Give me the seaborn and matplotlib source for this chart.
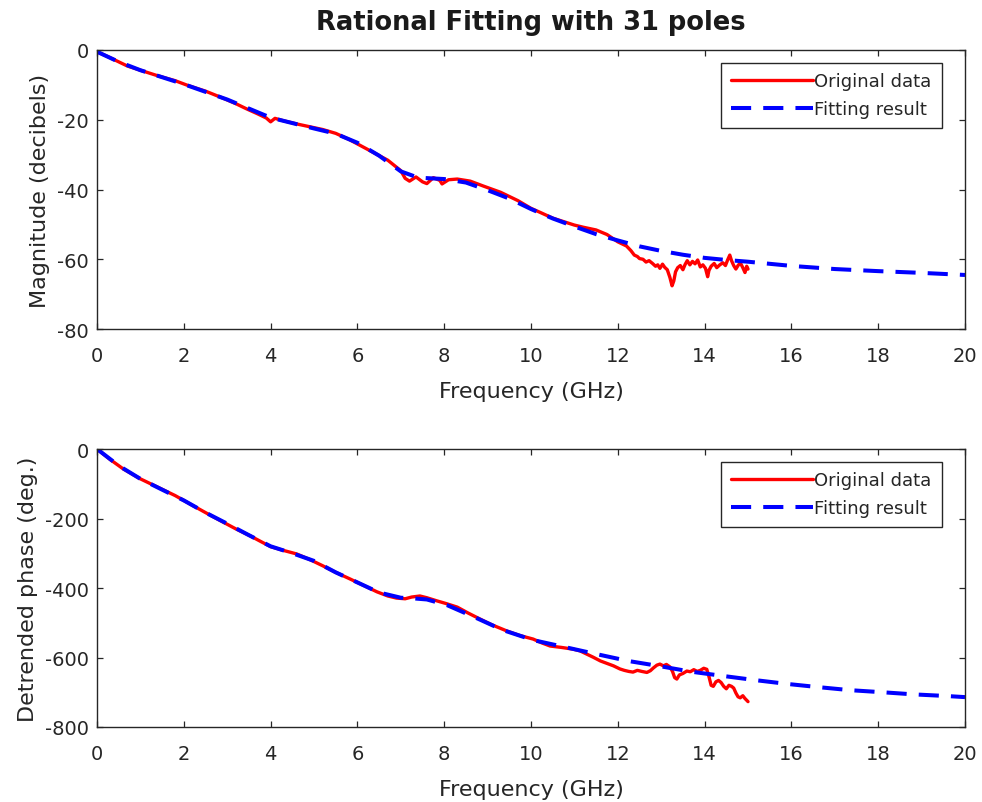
import numpy as np
import pandas as pd
import seaborn as sns
import matplotlib
matplotlib.use("Agg")
import matplotlib.pyplot as plt

# ---------------- data ----------------
mag_freq = [0.0, 0.3, 0.7, 1.0, 1.4, 1.8, 2.1, 2.5, 2.9, 3.2, 3.45, 3.7, 3.9, 4.0, 4.1, 4.3,
            4.6, 4.9, 5.2, 5.5, 5.8, 6.1, 6.4, 6.7, 6.9, 7.0, 7.1, 7.2, 7.35, 7.5, 7.6, 7.75,
            7.9, 7.95, 8.1, 8.3, 8.6, 8.9, 9.3, 9.7, 10.0, 10.2, 10.5, 10.7, 11.0, 11.2, 11.5,
            11.75, 12.0, 12.2, 12.3, 12.38, 12.45, 12.5, 12.58, 12.65, 12.72, 12.8, 12.87,
            12.92, 12.97, 13.03, 13.08, 13.14, 13.2, 13.25, 13.29, 13.33, 13.38, 13.44, 13.5,
            13.55, 13.6, 13.66, 13.72, 13.78, 13.84, 13.9, 13.96, 14.02, 14.07, 14.1, 14.15,
            14.22, 14.28, 14.35, 14.42, 14.48, 14.53, 14.58, 14.62, 14.67, 14.72, 14.78, 14.83,
            14.88, 14.93, 14.97, 15.0]
mag_orig = [-0.5, -2.2, -4.6, -5.8, -7.4, -8.8, -10.2, -11.8, -13.8, -15.4, -16.9, -18.3, -19.5,
            -20.6, -19.6, -20.3, -21.2, -22.0, -22.8, -23.9, -25.6, -27.6, -29.6, -31.6, -33.6,
            -34.6, -36.8, -37.6, -36.4, -37.8, -38.3, -36.6, -37.4, -38.4, -37.2, -37.0, -37.6,
            -39.0, -40.8, -43.2, -45.4, -46.5, -48.2, -49.0, -50.2, -50.8, -51.6, -52.9, -55.0,
            -56.2, -57.5, -58.8, -59.2, -59.8, -60.0, -60.8, -60.4, -61.2, -62.0, -61.6, -62.6,
            -61.4, -62.3, -63.0, -65.2, -67.6, -66.2, -63.6, -62.4, -61.8, -63.0, -61.5, -60.4,
            -61.6, -60.6, -61.3, -60.2, -62.2, -61.6, -62.6, -65.0, -63.2, -62.0, -61.2, -62.4,
            -61.6, -61.0, -61.8, -60.2, -58.8, -60.4, -61.8, -62.8, -61.6, -61.2, -62.4, -63.8,
            -62.0, -62.8]

fit_mag_freq = [0, 0.5, 1, 2, 3, 4, 5, 5.5, 6, 6.5, 7, 7.4, 8, 8.5, 9, 9.5, 10, 10.5, 11, 11.5,
                12, 12.5, 13, 13.5, 14, 14.5, 15, 16, 17, 18, 19, 20]
fit_mag = [-0.5, -3.4, -5.8, -9.8, -14.2, -19.4, -22.5, -24.0, -26.6, -30.3, -34.8, -36.6,
           -37.0, -38.0, -40.2, -42.6, -45.6, -48.3, -50.6, -52.8, -54.6, -56.3, -57.6, -58.7,
           -59.6, -60.2, -60.7, -61.9, -62.8, -63.4, -63.9, -64.5]

ph_freq = [0, 0.3, 0.6, 1.0, 1.4, 1.8, 2.14, 2.5, 2.9, 3.2, 3.53, 3.8, 4.0, 4.3, 4.6, 4.9, 5.2,
           5.5, 5.83, 6.15, 6.45, 6.7, 6.9, 7.1, 7.25, 7.44, 7.6, 7.83, 8.05, 8.3, 8.55, 8.82,
           9.1, 9.45, 9.75, 10.05, 10.25, 10.44, 10.7, 10.97, 11.13, 11.43, 11.6, 11.9, 12.05,
           12.15, 12.25, 12.35, 12.45, 12.55, 12.67, 12.75, 12.82, 12.9, 12.97, 13.05, 13.12,
           13.2, 13.26, 13.31, 13.36, 13.42, 13.5, 13.59, 13.67, 13.75, 13.83, 13.9, 13.98,
           14.05, 14.1, 14.15, 14.2, 14.26, 14.32, 14.38, 14.44, 14.5, 14.56, 14.62, 14.67,
           14.72, 14.77, 14.82, 14.88, 14.93, 15.0]
ph_orig = [0, -30, -57, -86, -110, -134, -158, -183, -210, -230, -250, -268, -281, -292, -302,
           -318, -336, -355, -374, -393, -411, -423, -429, -431, -426, -423, -428, -437, -445,
           -455, -472, -489, -506, -524, -537, -547, -558, -567, -571, -576, -581, -599, -610,
           -624, -633, -637, -640, -642, -637, -640, -643, -638, -630, -622, -619, -624, -620,
           -627, -640, -658, -662, -650, -646, -639, -641, -635, -640, -637, -631, -634, -655,
           -680, -683, -670, -666, -672, -683, -690, -680, -683, -688, -702, -713, -716, -710,
           -718, -727]

fit_ph_freq = [0, 0.5, 1, 1.5, 2, 2.5, 3, 3.5, 4, 4.5, 5, 5.5, 6, 6.5, 7, 7.3, 7.6, 8.06, 8.7,
               9.35, 10.05, 10.78, 11.5, 12.24, 12.97, 13.7, 14.42, 15.16, 15.9, 16.6, 17.35,
               18.1, 18.8, 19.6, 20]
fit_ph = [0, -48, -86, -117, -148, -183, -215, -248, -280, -300, -322, -355, -384, -413, -428,
          -430, -433, -449, -484, -521, -550, -570, -590, -610, -625, -641, -653, -665, -676,
          -685, -694, -700, -706, -711, -714]

title = "Rational Fitting with 31 poles"
xlabel = "Frequency (GHz)"
ylabels = ["Magnitude (decibels)", "Detrended phase (deg.)"]
legend_labels = ["Original data", "Fitting result"]
xticks = [0, 2, 4, 6, 8, 10, 12, 14, 16, 18, 20]
yticks_mag = [-80, -60, -40, -20, 0]
yticks_ph = [-800, -600, -400, -200, 0]

# ---------------- style ----------------
sns.set_theme(style="ticks")
plt.rcParams["font.family"] = ["DejaVu Sans"]
plt.rcParams["axes.unicode_minus"] = False

fig = plt.figure(figsize=(9.82, 8.03), dpi=100)
ax1 = fig.add_axes([0.0988, 0.589, 0.8839, 0.3475])
ax2 = fig.add_axes([0.0988, 0.0934, 0.8839, 0.3462])

spine_col = "#262626"
red = "#ff0000"
blue = "#0000ff"

panels = [
    (ax1, mag_freq, mag_orig, fit_mag_freq, fit_mag, ylabels[0], (-80, 0), yticks_mag),
    (ax2, ph_freq, ph_orig, fit_ph_freq, fit_ph, ylabels[1], (-800, 0), yticks_ph),
]

for ax, fx, fy, gx, gy, ylab, ylim, yt in panels:
    d1 = pd.DataFrame({"f": fx, "v": fy})
    d2 = pd.DataFrame({"f": gx, "v": gy})
    sns.lineplot(data=d1, x="f", y="v", ax=ax, color=red, lw=2.4, estimator=None,
                 sort=False, label=legend_labels[0])
    sns.lineplot(data=d2, x="f", y="v", ax=ax, color=blue, lw=2.9, estimator=None,
                 sort=False, label=legend_labels[1], dashes=False)
    ax.lines[-1].set_dashes([5.0, 3.0])
    ax.set_xlim(0, 20)
    ax.set_ylim(*ylim)
    ax.set_xticks(xticks)
    ax.set_yticks(yt)
    ax.set_xlabel(xlabel, fontsize=16, color="#262626", labelpad=12)
    ax.set_ylabel(ylab, fontsize=16, color="#262626", labelpad=5)
    ax.tick_params(axis="both", which="both", direction="in", length=4.5, width=0.9,
                   top=True, right=True, labelsize=14, colors="#262626")
    ax.tick_params(axis="x", pad=12)
    ax.tick_params(axis="y", pad=6)
    for s in ax.spines.values():
        s.set_visible(True)
        s.set_color(spine_col)
        s.set_linewidth(1.0)
    leg = ax.legend(loc="upper right", bbox_to_anchor=(0.973, 0.955), fontsize=13,
                    frameon=True, fancybox=False, edgecolor="#262626", framealpha=1,
                    handlelength=4.5, handletextpad=0.1, borderpad=0.55, labelspacing=0.55,
                    borderaxespad=0)
    leg.get_frame().set_linewidth(1.0)

ax1.set_title(title, fontsize=18.5, fontweight="bold", color="#1a1a1a", pad=15)

fig.savefig("out.png", dpi=100)
